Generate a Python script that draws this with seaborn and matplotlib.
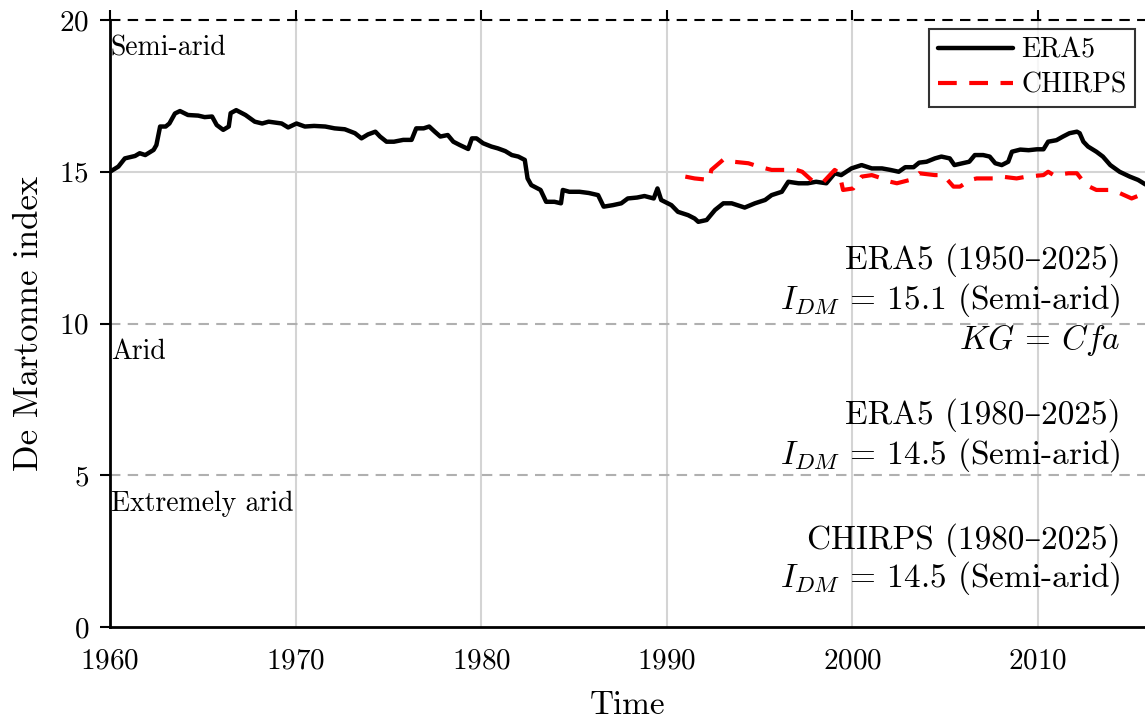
import matplotlib
matplotlib.use("Agg")
import matplotlib.pyplot as plt
import seaborn as sns
import pandas as pd

# --- data ---
era5_year = [1960.0, 1960.45, 1960.8, 1961.35, 1961.6, 1961.9, 1962.35, 1962.5, 1962.7, 1963.0, 1963.2, 1963.5, 1963.77, 1964.2, 1964.75,
             1965.1, 1965.5, 1965.75, 1966.1, 1966.4, 1966.5, 1966.8, 1967.3, 1967.8, 1968.2, 1968.55, 1968.9, 1969.25, 1969.6, 1970.05,
             1970.5, 1971.0, 1971.6, 1972.1, 1972.65, 1973.2, 1973.55, 1973.9, 1974.3, 1974.55, 1974.9, 1975.3, 1975.8, 1976.25, 1976.5,
             1976.9, 1977.2, 1977.5, 1977.8, 1978.2, 1978.5, 1978.85, 1979.3, 1979.5, 1979.75, 1980.1, 1980.55, 1980.9, 1981.3, 1981.65,
             1982.0, 1982.35, 1982.5, 1982.7, 1983.2, 1983.5, 1983.95, 1984.3, 1984.4, 1984.75, 1985.3, 1985.8, 1986.3, 1986.6, 1987.1,
             1987.55, 1987.9, 1988.4, 1988.8, 1989.3, 1989.5, 1989.7, 1990.25, 1990.6, 1991.15, 1991.5, 1991.7, 1992.15, 1992.6, 1993.05,
             1993.5, 1994.2, 1994.75, 1995.3, 1995.65, 1996.2, 1996.55, 1997.1, 1997.6, 1998.05, 1998.6, 1999.05, 1999.4, 1999.95, 2000.5,
             2001.05, 2001.6, 2002.05, 2002.5, 2002.85, 2003.3, 2003.6, 2004.0, 2004.45, 2004.8, 2005.25, 2005.5, 2005.95, 2006.3, 2006.6,
             2007.05, 2007.4, 2007.7, 2008.05, 2008.4, 2008.6, 2009.05, 2009.5, 2009.95, 2010.3, 2010.55, 2011.0, 2011.35, 2011.7, 2012.1,
             2012.25, 2012.45, 2012.7, 2013.15, 2013.5, 2013.9, 2014.4, 2014.95, 2015.4, 2015.8]
era5_idm = [15.0, 15.17, 15.44, 15.52, 15.61, 15.55, 15.72, 15.88, 16.49, 16.49, 16.59, 16.92, 17.0, 16.87, 16.85,
            16.8, 16.82, 16.54, 16.38, 16.49, 16.93, 17.03, 16.87, 16.65, 16.59, 16.65, 16.62, 16.59, 16.46, 16.59,
            16.49, 16.51, 16.49, 16.43, 16.4, 16.27, 16.1, 16.23, 16.32, 16.16, 15.99, 15.99, 16.05, 16.05, 16.43,
            16.43, 16.49, 16.32, 16.16, 16.21, 15.99, 15.88, 15.75, 16.1, 16.1, 15.94, 15.83, 15.77, 15.68, 15.55,
            15.5, 15.39, 14.78, 14.56, 14.4, 14.01, 14.01, 13.96, 14.4, 14.34, 14.34, 14.3, 14.23, 13.85, 13.9,
            13.96, 14.12, 14.15, 14.2, 14.12, 14.45, 14.07, 13.9, 13.68, 13.57, 13.46, 13.35, 13.41, 13.74, 13.96,
            13.96, 13.82, 13.96, 14.07, 14.23, 14.34, 14.67, 14.62, 14.62, 14.67, 14.62, 14.95, 14.89, 15.11, 15.22,
            15.11, 15.11, 15.06, 15.0, 15.15, 15.15, 15.3, 15.33, 15.44, 15.5, 15.44, 15.22, 15.28, 15.33, 15.55,
            15.55, 15.5, 15.28, 15.22, 15.33, 15.66, 15.73, 15.71, 15.74, 15.74, 15.99, 16.04, 16.16, 16.27, 16.32,
            16.27, 15.99, 15.83, 15.66, 15.5, 15.22, 15.0, 14.84, 14.73, 14.58]

chirps_year = [1991.0, 1991.5, 1992.3, 1992.4, 1993.05, 1993.6, 1994.4, 1994.95, 1995.65, 1996.2, 1997.0, 1997.3,
               1997.9, 1998.45, 1999.05, 1999.3, 1999.5, 2000.05, 2000.5, 2001.05, 2001.6, 2002.05, 2002.4, 2003.1,
               2003.6, 2004.45, 2004.9, 2005.45, 2005.8, 2006.35, 2006.7, 2007.6, 2008.05, 2008.85, 2009.4, 2010.3,
               2010.55, 2010.85, 2011.65, 2012.1, 2012.6, 2013.15, 2013.9, 2014.25, 2015.05, 2015.5, 2015.8]
chirps_idm = [14.84, 14.78, 14.73, 15.06, 15.4, 15.33, 15.28, 15.17, 15.06, 15.06, 15.06, 15.0,
              14.67, 14.67, 15.06, 14.95, 14.4, 14.45, 14.84, 14.89, 14.78, 14.67, 14.62, 14.73,
              14.95, 14.89, 14.89, 14.51, 14.51, 14.73, 14.78, 14.78, 14.84, 14.78, 14.84, 14.89,
              15.0, 14.89, 14.95, 14.95, 14.56, 14.4, 14.4, 14.34, 14.12, 14.23, 14.25]

class_limits = [20, 10, 5]
class_names = ["Semi-arid", "Arid", "Extremely arid"]

summary_lines = ["ERA5 (1950–2025)", r"$I_{DM}$ = 15.1 (Semi-arid)", r"$KG$ = $Cfa$",
                 "ERA5 (1980–2025)", r"$I_{DM}$ = 14.5 (Semi-arid)",
                 "CHIRPS (1980–2025)", r"$I_{DM}$ = 14.5 (Semi-arid)"]
summary_y = [12.09, 10.77, 9.46, 6.99, 5.67, 2.87, 1.61]

x_ticks = [1960, 1970, 1980, 1990, 2000, 2010]
y_ticks = [0, 5, 10, 15, 20]

# --- style ---
sns.set_style("white")
plt.rcParams['font.family'] = ['cmr10', 'DejaVu Serif']
plt.rcParams['mathtext.fontset'] = 'cm'
plt.rcParams['axes.formatter.use_mathtext'] = True
for key in ['text.color', 'axes.labelcolor', 'xtick.color', 'ytick.color']:
    plt.rcParams[key] = 'black'

era5 = pd.DataFrame({'Time': era5_year, 'IDM': era5_idm})
chirps = pd.DataFrame({'Time': chirps_year, 'IDM': chirps_idm})

fig = plt.figure(figsize=(11.45, 7.2), dpi=100)
ax = fig.add_axes([110 / 1145, 93 / 720, 1035 / 1145, 607 / 720])

# grid
for xt in x_ticks:
    ax.axvline(xt, color='#d4d4d4', lw=1.5, zorder=0)
ax.axhline(15, color='#d4d4d4', lw=1.5, zorder=0)

# class thresholds
ax.axhline(20, color='black', lw=1.5, ls=(0, (5, 3.5)), zorder=1, clip_on=False)
for lim in class_limits[1:]:
    ax.axhline(lim, color='#b0b0b0', lw=1.5, ls=(0, (5, 3.5)), zorder=1)

sns.lineplot(data=era5, x='Time', y='IDM', ax=ax, color='black', lw=3.2, label='ERA5')
sns.lineplot(data=chirps, x='Time', y='IDM', ax=ax, color='#ff0000', lw=3.0,
             ls=(0, (4.5, 3)), label='CHIRPS')

for lim, name in zip(class_limits, class_names):
    ax.text(1960.05, lim - 0.93, name, fontsize=20, ha='left', va='center')

for yy, line in zip(summary_y, summary_lines):
    ax.text(2014.45, yy, line, fontsize=24, ha='right', va='center')

ax.set_xlim(1960, 2015.77)
ax.set_ylim(0, 20)
ax.set_xticks(x_ticks)
ax.set_yticks(y_ticks)
ax.tick_params(axis='both', labelsize=21, direction='out', length=7, width=1.5, color='black', pad=8)
ax.tick_params(axis='x', top=True)
ax.tick_params(axis='y', left=True)
for s in ['top', 'right']:
    ax.spines[s].set_visible(False)
for s in ['left', 'bottom']:
    ax.spines[s].set_linewidth(2)
    ax.spines[s].set_color('black')

ax.set_xlabel('Time', fontsize=24, labelpad=12)
ax.set_ylabel('De Martonne index', fontsize=25, labelpad=10)

leg = ax.legend(loc='upper right', bbox_to_anchor=(0.99, 0.985), borderaxespad=0,
                fontsize=20, frameon=True, fancybox=False, edgecolor='black',
                handlelength=2.7, borderpad=0.3, labelspacing=0.3, handletextpad=0.3)
leg.get_frame().set_linewidth(1.5)

plt.savefig('out.png', dpi=100)
